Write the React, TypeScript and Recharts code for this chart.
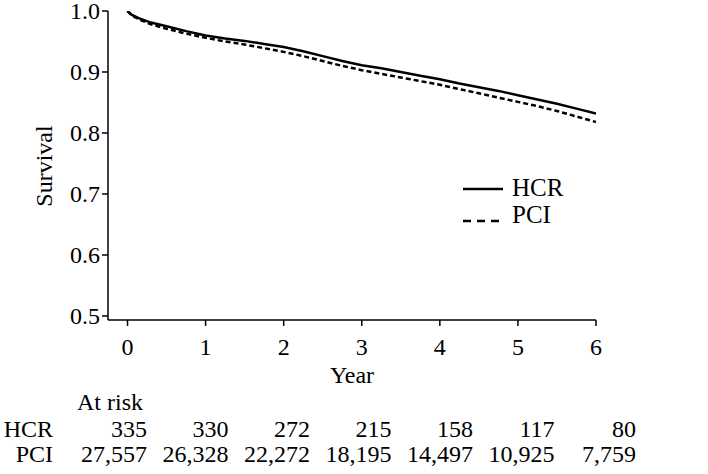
import React from "react";
import { LineChart, Line, XAxis, YAxis } from "recharts";

const years = [0, 0.05, 0.15, 0.3, 0.5, 0.75, 1, 1.25, 1.5, 1.75, 2, 2.25, 2.5, 2.75, 3, 3.25, 3.5, 3.75, 4, 4.25, 4.5, 4.75, 5, 5.25, 5.5, 5.75, 6];
const hcrSurvival = [1.0, 0.994, 0.988, 0.981, 0.975, 0.967, 0.96, 0.955, 0.951, 0.946, 0.941, 0.934, 0.926, 0.918, 0.911, 0.906, 0.9, 0.894, 0.888, 0.881, 0.875, 0.869, 0.862, 0.855, 0.848, 0.84, 0.832];
const pciSurvival = [1.0, 0.993, 0.986, 0.978, 0.971, 0.963, 0.956, 0.95, 0.945, 0.939, 0.933, 0.926, 0.918, 0.91, 0.903, 0.897, 0.891, 0.885, 0.879, 0.872, 0.865, 0.858, 0.851, 0.844, 0.836, 0.827, 0.818];

const xTicks = [0, 1, 2, 3, 4, 5, 6];
const yTicks = [0.5, 0.6, 0.7, 0.8, 0.9, 1.0];

const riskGroups = ["HCR", "PCI"];
const atRiskHCR = ["335", "330", "272", "215", "158", "117", "80"];
const atRiskPCI = ["27,557", "26,328", "22,272", "18,195", "14,497", "10,925", "7,759"];

const FONT = "'Palatino Linotype', 'Book Antiqua', Palatino, 'Liberation Serif', serif";

const data = years.map((t, i) => ({ t, hcr: hcrSurvival[i], pci: pciSurvival[i] }));

const XTick = ({ x, y, payload }: any) => (
  <text x={x} y={y + 17} textAnchor="middle" fontSize={24} fontFamily={FONT} fill="#000">
    {payload.value}
  </text>
);

const YTick = ({ x, y, payload }: any) => (
  <text x={x} y={y} textAnchor="end" dominantBaseline="central" fontSize={24} fontFamily={FONT} fill="#000">
    {Number(payload.value).toFixed(1)}
  </text>
);

export default function App() {
  const rows = [atRiskHCR, atRiskPCI];
  return (
    <div style={{ position: "absolute", left: 0, top: 0, width: 708, height: 474, background: "#fff", fontFamily: FONT }}>
      <LineChart width={708} height={474} data={data} margin={{ top: 11, right: 112, bottom: 0, left: 0 }}>
        <XAxis
          dataKey="t"
          type="number"
          domain={[-0.25, 6]}
          ticks={xTicks}
          allowDataOverflow
          height={154}
          stroke="#000"
          strokeWidth={1.5}
          tickSize={6}
          tickMargin={12}
          tick={<XTick />}
          label={{ value: "Year", position: "insideTop", offset: 46, fill: "#000", fontSize: 24, fontFamily: FONT }}
        />
        <YAxis
          type="number"
          domain={[0.4934, 1.0]}
          ticks={yTicks}
          allowDataOverflow
          width={108}
          stroke="#000"
          strokeWidth={1.5}
          tickSize={6}
          tickMargin={2}
          tick={<YTick />}
        />
        <Line dataKey="hcr" name="HCR" type="linear" stroke="#000" strokeWidth={2.5} dot={false} isAnimationActive={false} />
        <Line dataKey="pci" name="PCI" type="linear" stroke="#000" strokeWidth={2.5} strokeDasharray="5 3" dot={false} isAnimationActive={false} />
      </LineChart>
      <svg width={708} height={474} style={{ position: "absolute", left: 0, top: 0, pointerEvents: "none" }}>
        <text x={44} y={166} transform="rotate(-90 44 166)" textAnchor="middle" dominantBaseline="central" fontSize={24} fontFamily={FONT} fill="#000">
          Survival
        </text>
        <line x1={463} y1={189} x2={503} y2={189} stroke="#000" strokeWidth={2.5} />
        <text x={512} y={196} fontSize={25} fontFamily={FONT} fill="#000">HCR</text>
        <line x1={463} y1={221} x2={503} y2={221} stroke="#000" strokeWidth={2.5} strokeDasharray="8 6" />
        <text x={512} y={223} fontSize={25} fontFamily={FONT} fill="#000">PCI</text>
        <text x={77} y={410} fontSize={24} fontFamily={FONT} fill="#000">At risk</text>
        {riskGroups.map((g, r) => (
          <g key={g}>
            <text x={53} y={437 + r * 25} textAnchor="end" fontSize={24} fontFamily={FONT} fill="#000">{g}</text>
            {rows[r].map((n, i) => (
              <text key={i} x={147 + i * 81.5} y={437 + r * 25} textAnchor="end" fontSize={24} fontFamily={FONT} fill="#000">{n}</text>
            ))}
          </g>
        ))}
      </svg>
    </div>
  );
}
